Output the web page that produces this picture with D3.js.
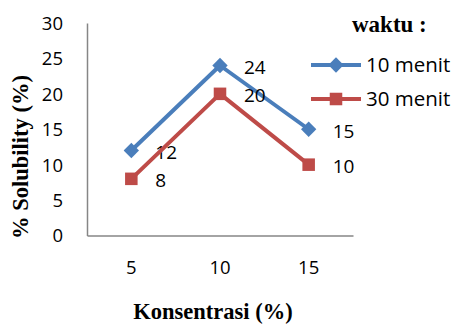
<!DOCTYPE html>
<html>
<head>
<meta charset="utf-8">
<script src="https://cdn.jsdelivr.net/npm/d3@7"></script>
<style>
  html, body { margin: 0; padding: 0; background: #fff; }
  svg { display: block; }
</style>
</head>
<body>
<svg id="chart" width="454" height="325"></svg>
<script>
// Solubility by concentration, for two stirring times
const categories = [5, 10, 15];
const seriesNames = ["10 menit", "30 menit"];
const series10 = [12, 24, 15];
const series30 = [8, 20, 10];
const yTicks = [0, 5, 10, 15, 20, 25, 30];

const colors = ["#4A7EBB", "#BE4B48"];
const numFont = "'Open Sans', 'Noto Sans', sans-serif";
const titleFont = "'Liberation Serif', 'Times New Roman', serif";

const svg = d3.select("#chart");

const x = d3.scaleBand().domain(categories).range([87, 353]).padding(0);
const y = d3.scaleLinear().domain([0, 30]).range([235.5, 23]);

// Axes: plain grey lines, no tick marks
const yAxis = svg.append("g")
  .attr("transform", "translate(87,0)")
  .call(d3.axisLeft(y).tickValues(yTicks).tickSize(0).tickPadding(24));
const xAxis = svg.append("g")
  .attr("transform", "translate(0,235.5)")
  .call(d3.axisBottom(x).tickSize(0).tickPadding(22));

[yAxis, xAxis].forEach(g => {
  g.select(".domain").attr("stroke", "#868686").attr("stroke-width", 1.5);
  g.selectAll("text")
    .attr("font-family", numFont)
    .attr("font-size", 18.5)
    .attr("fill", "#000");
});
yAxis.selectAll("text").attr("dy", "0.35em");
xAxis.selectAll("text").attr("dy", "0.35em").attr("y", 32);

// Axis titles
svg.append("text")
  .attr("transform", "translate(28,157) rotate(-90)")
  .attr("text-anchor", "middle")
  .attr("font-family", titleFont)
  .attr("font-weight", "bold")
  .attr("font-size", 22.5)
  .text("% Solubility (%)");

svg.append("text")
  .attr("x", 213)
  .attr("y", 319)
  .attr("text-anchor", "middle")
  .attr("font-family", titleFont)
  .attr("font-weight", "bold")
  .attr("font-size", 22.5)
  .text("Konsentrasi (%)");

const data = [series10, series30];
const line = d3.line()
  .x((d, i) => x(categories[i]) + x.bandwidth() / 2)
  .y(d => y(d));

const diamond = d3.symbol().type(d3.symbolDiamond2).size(150);
const square = d3.symbol().type(d3.symbolSquare2).size(200);
const shapes = [diamond, square];

data.forEach((vals, s) => {
  const g = svg.append("g");
  g.append("path")
    .datum(vals)
    .attr("fill", "none")
    .attr("stroke", colors[s])
    .attr("stroke-width", 4)
    .attr("stroke-linejoin", "round")
    .attr("d", line);

  g.selectAll(".m")
    .data(vals)
    .join("path")
    .attr("transform", (d, i) => `translate(${x(categories[i]) + x.bandwidth() / 2},${y(d)})`)
    .attr("fill", colors[s])
    .attr("d", shapes[s]);

  g.selectAll(".lbl")
    .data(vals)
    .join("text")
    .attr("x", (d, i) => x(categories[i]) + x.bandwidth() / 2 + 24)
    .attr("y", d => y(d) + 2)
    .attr("dy", "0.35em")
    .attr("font-family", numFont)
    .attr("font-size", 19)
    .attr("fill", "#000")
    .text(d => d);
});

// Legend
svg.append("text")
  .attr("x", 352)
  .attr("y", 32)
  .attr("font-family", titleFont)
  .attr("font-weight", "bold")
  .attr("font-size", 23)
  .text("waktu :");

const legendY = [65, 99];
seriesNames.forEach((name, s) => {
  const g = svg.append("g").attr("transform", `translate(0,${legendY[s]})`);
  g.append("line")
    .attr("x1", 311).attr("x2", 361)
    .attr("stroke", colors[s])
    .attr("stroke-width", 4);
  g.append("path")
    .attr("transform", "translate(336,0)")
    .attr("fill", colors[s])
    .attr("d", shapes[s]);
  g.append("text")
    .attr("x", 366)
    .attr("dy", "0.35em")
    .attr("font-family", numFont)
    .attr("font-size", 20.5)
    .attr("fill", "#000")
    .text(name);
});
</script>
</body>
</html>
